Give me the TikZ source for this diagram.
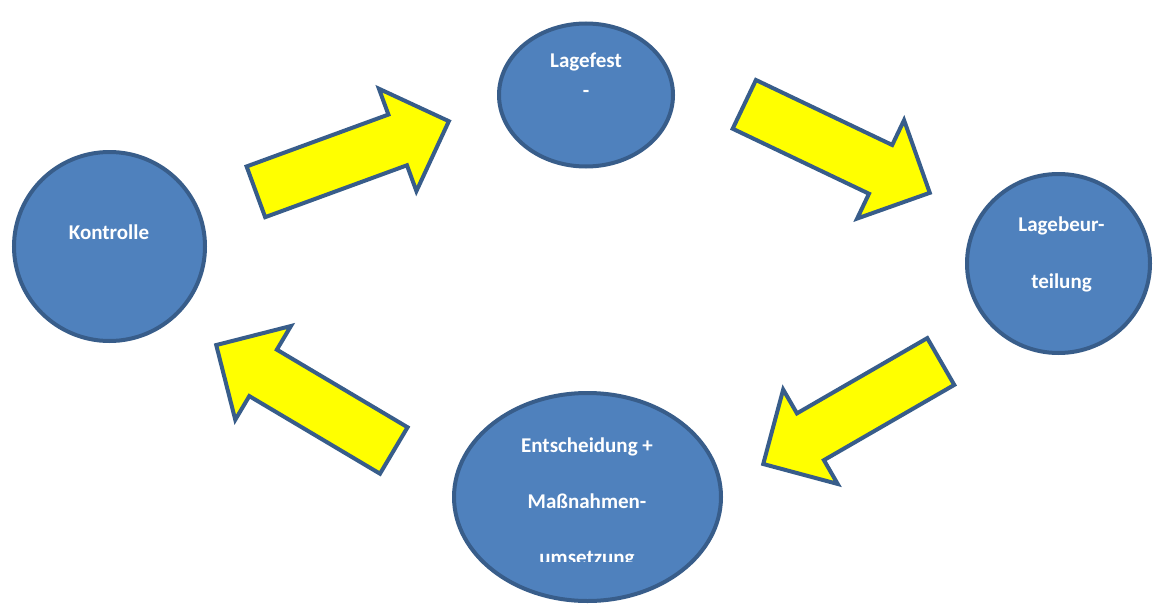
\documentclass[tikz,border=0pt]{standalone}
\usepackage{fontspec}
\setmainfont{Carlito}
\usetikzlibrary{shapes.geometric,shapes.arrows}
\definecolor{phaseblue}{HTML}{4F81BD}
\definecolor{rimblue}{HTML}{385D8A}
\definecolor{arrowyellow}{HTML}{FFFF00}
\begin{document}
\begin{tikzpicture}[x=1pt, y=-1pt,
  phase/.style={ellipse, draw=rimblue, fill=phaseblue, line width=4pt, inner sep=0pt},
  bigarrow/.style={single arrow, draw=rimblue, fill=arrowyellow, line width=4pt, inner xsep=0pt,
    inner ysep=25pt, single arrow head extend=27.5pt, anchor=tail},
  lbl/.style={text=white, font=\bfseries\fontsize{21}{#1}\selectfont, align=center, anchor=base},
  lbl/.default=30]
\useasboundingbox (0,0) rectangle (1154,605);
\node[phase, minimum width=191pt, minimum height=189pt] (kontrolle) at (109.5,246.5) {};
\node[phase, minimum width=174pt, minimum height=143pt] (lagefest) at (586,95) {};
\node[phase, minimum width=183pt, minimum height=179pt] (lagebeurteilung) at (1058.5,263.5) {};
\node[phase, minimum width=267pt, minimum height=208pt] (entscheidung) at (587.5,497) {};
\node[lbl] (kontrolle-text) at (109,239) {Kontrolle};
\node[lbl=30] (lagefest-text) at (586,97) {Lagefest\\-};
\node[lbl=57] (lagebeurteilung-text) at (1061.5,288.3) {Lagebeur-\\teilung};
\begin{scope}
\clip (440,380) rectangle (735,561.5);
\node[lbl=56] (entscheidung-text) at (587,564.3) {Entscheidung +\\Maßnahmen-\\umsetzung};
\end{scope}
\node[bigarrow, minimum height=205.5pt, rotate=20.1] (a1) at (254,192.5) {};
\node[bigarrow, minimum height=205.5pt, rotate=-25.5] (a2) at (742.5,103.5) {};
\node[bigarrow, minimum height=205pt, rotate=210] (a3) at (942.5,360.5) {};
\node[bigarrow, minimum height=206.5pt, rotate=149.3] (a4) at (395.5,451.5) {};
\end{tikzpicture}
\end{document}
